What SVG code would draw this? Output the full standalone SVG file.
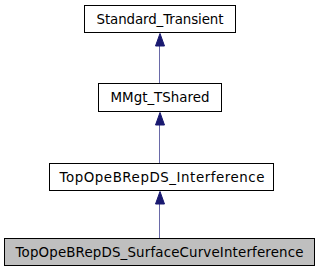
<svg xmlns="http://www.w3.org/2000/svg" width="320" height="272" viewBox="0 0 320 272">
  <defs>
    <style>
      .box { fill: #ffffff; stroke: #000000; stroke-width: 1; }
      .cur { fill: #bfbfbf; stroke: #000000; stroke-width: 1; }
      .lbl { font-family: "DejaVu Sans", sans-serif; font-size: 13.4px; fill: #000000; text-anchor: middle; }
      .edge { stroke: #6a6aa8; stroke-width: 1; fill: none; }
      .head { fill: #191970; stroke: #191970; stroke-width: 1; }
    </style>
  </defs>
  <rect width="320" height="272" fill="#ffffff"/>

  <!-- inheritance arrows, child -> parent -->
  <g id="edges">
    <path class="edge" d="M159.5,83V46"/>
    <polygon class="head" points="160,33.5 164.5,46 155.5,46"/>
    <path class="edge" d="M159.5,163V125"/>
    <polygon class="head" points="160,112.5 164.5,125 155.5,125"/>
    <path class="edge" d="M159.5,238V204"/>
    <polygon class="head" points="160,191.5 164.5,204 155.5,204"/>
  </g>

  <g id="node-standard-transient">
    <rect class="box" x="84.5" y="5.5" width="151" height="27"/>
    <text class="lbl" x="160" y="23.5" textLength="127" lengthAdjust="spacing">Standard_Transient</text>
  </g>
  <g id="node-mmgt-tshared">
    <rect class="box" x="98.5" y="83.5" width="123" height="28"/>
    <text class="lbl" x="160" y="102" textLength="99" lengthAdjust="spacing">MMgt_TShared</text>
  </g>
  <g id="node-interference">
    <rect class="box" x="49.5" y="163.5" width="224" height="27"/>
    <text class="lbl" x="162" y="181.5" textLength="205" lengthAdjust="spacing">TopOpeBRepDS_Interference</text>
  </g>
  <g id="node-surface-curve-interference">
    <rect class="cur" x="4.5" y="238.5" width="310" height="27"/>
    <text class="lbl" x="159.5" y="256.5" textLength="288" lengthAdjust="spacing">TopOpeBRepDS_SurfaceCurveInterference</text>
  </g>
</svg>
